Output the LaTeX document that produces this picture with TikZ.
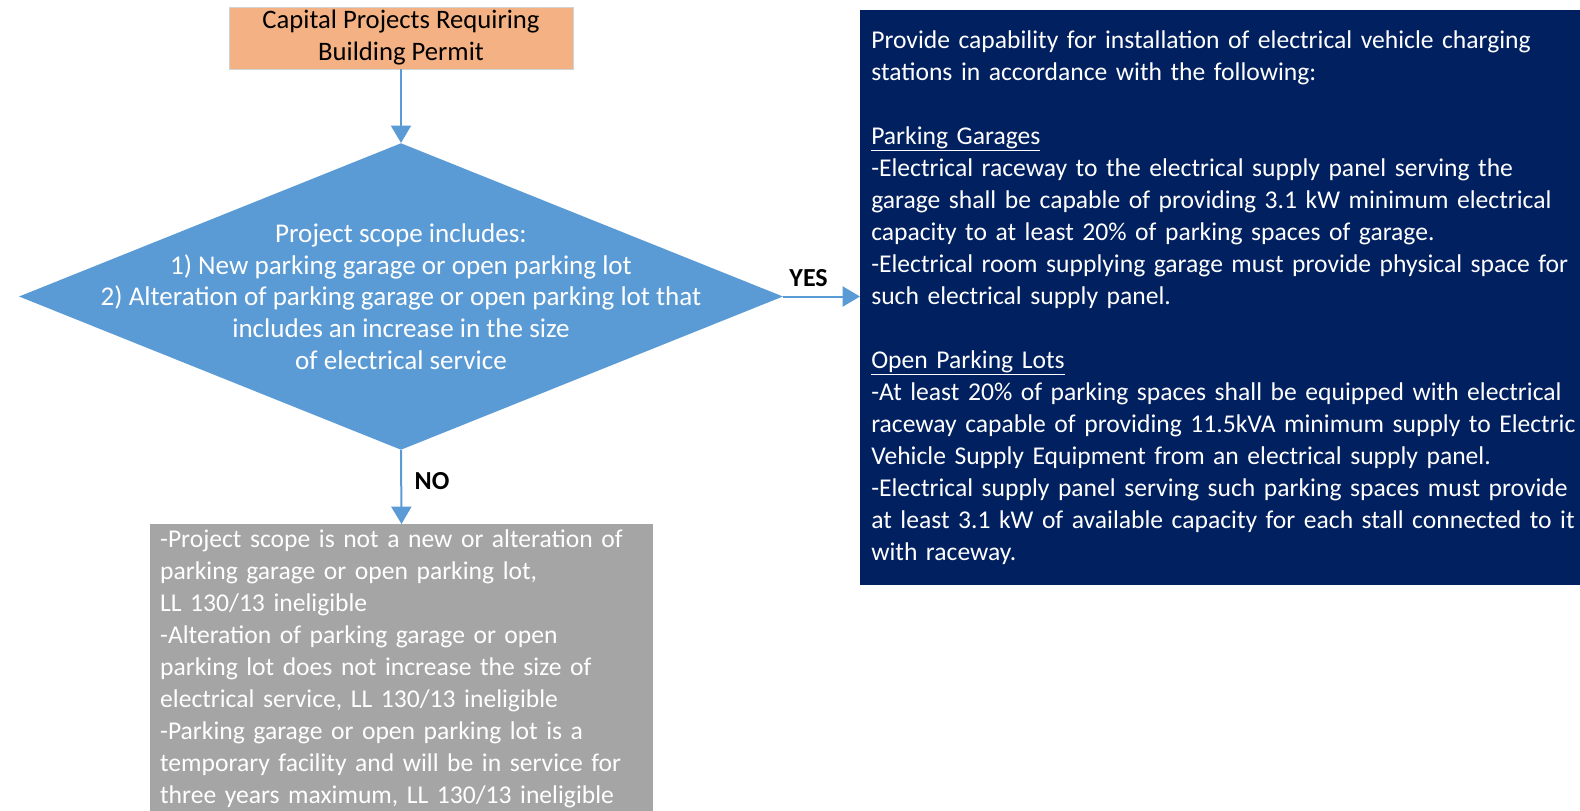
\documentclass[tikz,border=0pt]{standalone}
\usepackage{fontspec}
\setmainfont{Carlito}
\usetikzlibrary{shapes.geometric,arrows.meta,positioning}
\definecolor{permitorange}{HTML}{F4B183}
\definecolor{flowblue}{HTML}{5B9BD5}
\definecolor{evnavy}{HTML}{002060}
\definecolor{nogray}{HTML}{A5A5A5}

\begin{document}
\begin{tikzpicture}[x=0.75pt, y=-0.75pt,
        every node/.style={font=\fontsize{19.2}{24}\selectfont},
        flow/.style={draw=flowblue, line width=1.5pt, -{Triangle[width=15pt,length=13pt]}},
        answer/.style={font=\fontsize{19.5}{24}\selectfont\bfseries, text=black}]
        \useasboundingbox (0,0) rectangle (1580,810);
        \clip (0,0) rectangle (1580,810);
        \node (permit) [fill=permitorange, draw=gray!35, line width=0.6pt, minimum width=258pt,
          minimum height=46.5pt, inner sep=0, align=center, font=\fontsize{20}{24}\selectfont] at (401,38)
          {Capital Projects Requiring\\Building Permit};
        \node (scope) [diamond, fill=flowblue, minimum width=573pt, minimum height=230pt, inner sep=0,
          label={[text=white, align=center, font=\fontsize{20.3}{23.7}\selectfont]center:{Project scope includes:\\
            1) New parking garage or open parking lot\\
            2) Alteration of parking garage or open parking lot that\\
            includes an increase in the size\\
            of electrical service}}] at (401,296.5) {};
        \node (garage) [fill=evnavy, text=white, anchor=north west, minimum width=576.5pt,
          minimum height=431pt, text width=560pt, inner xsep=8.25pt, align=left] at (860,10)
          {Provide capability for installation of electrical vehicle charging\\
          stations in accordance with the following:\\[24pt]
          \underline{Parking Garages}\\
          -Electrical raceway to the electrical supply panel serving the\\
          garage shall be capable of providing 3.1 kW minimum electrical\\
          capacity to at least 20\% of parking spaces of garage.\\
          -Electrical room supplying garage must provide physical space for\\
          such electrical supply panel.\\[24pt]
          \underline{Open Parking Lots}\\
          -At least 20\% of parking spaces shall be equipped with electrical\\
          raceway capable of providing 11.5kVA minimum supply to Electric\\
          Vehicle Supply Equipment from an electrical supply panel.\\
          -Electrical supply panel serving such parking spaces must provide\\
          at least 3.1 kW of available capacity for each stall connected to it\\
          with raceway.\\[4pt]};
        \node (ineligible) [fill=nogray, text=white, anchor=north, text width=362pt,
          inner xsep=7.5pt, inner ysep=4pt, align=left] at (401.5,524)
          {-Project scope is not a new or alteration of\\
          parking garage or open parking lot,\\
          LL 130/13 ineligible\\
          -Alteration of parking garage or open\\
          parking lot does not increase the size of\\
          electrical service, LL 130/13 ineligible\\
          -Parking garage or open parking lot is a\\
          temporary facility and will be in service for\\
          three years maximum, LL 130/13 ineligible};
        \draw[flow] (permit.south) -- (scope.north);
        \draw[flow] (scope.east) -- node[answer, above=3pt, pos=0.33] {YES} (scope.east -| garage.west);
        \draw[flow] (scope.south) -- node[answer, right=6pt, pos=0.42] {NO} (ineligible.north);
\end{tikzpicture}
\end{document}
